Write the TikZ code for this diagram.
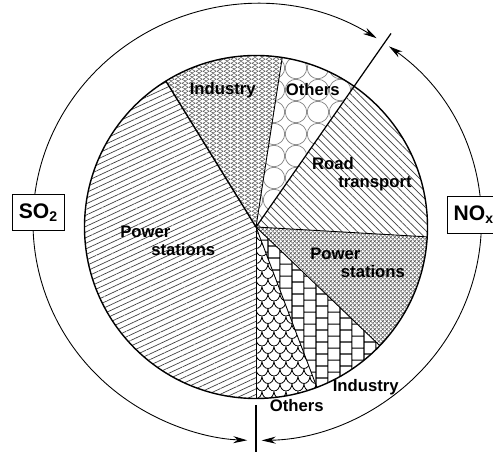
\documentclass[tikz,border=0pt]{standalone}
\usepackage{fontspec}
\setmainfont{Liberation Sans}
\usetikzlibrary{patterns, patterns.meta, arrows.meta, calc}

\tikzdeclarepattern{name=mesh, bounding box={(0,0) and (4pt,2.4pt)}, tile size={(4pt,2.4pt)},
  code={\draw[line width=0.35pt] (0,1.2pt) -- (2pt,0) -- (4pt,1.2pt) -- (2pt,2.4pt) -- cycle;}}
\tikzdeclarepattern{name=rings, bounding box={(0,0) and (12.5pt,12.5pt)}, tile size={(12.5pt,12.5pt)},
  code={\draw[line width=0.4pt] (6.25pt,6.25pt) circle[radius=6.1pt];}}
\tikzdeclarepattern{name=finecross, bounding box={(0,0) and (2.4pt,2.4pt)}, tile size={(2.4pt,2.4pt)},
  code={\draw[line width=0.4pt] (0,0) -- (2.4pt,2.4pt) (0,2.4pt) -- (2.4pt,0);}}
\tikzdeclarepattern{name=vbricks, bounding box={(0,0) and (13.6pt,6.8pt)}, tile size={(13.6pt,6.8pt)},
  code={\draw[line width=0.6pt] (3.4pt,0) -- (3.4pt,6.8pt) (10.2pt,0) -- (10.2pt,6.8pt)
    (3.4pt,1.7pt) -- (10.2pt,1.7pt) (10.2pt,5.1pt) -- (13.6pt,5.1pt) (0,5.1pt) -- (3.4pt,5.1pt);}}
\tikzdeclarepattern{name=scales, bounding box={(0,0) and (6.8pt,8.8pt)}, tile size={(6.8pt,8.8pt)},
  code={\draw[line width=0.45pt] (0,8.8pt) arc[start angle=180, end angle=360, x radius=3.4pt, y radius=4.4pt]
    (-3.4pt,4.4pt) arc[start angle=180, end angle=360, x radius=3.4pt, y radius=4.4pt]
    (3.4pt,4.4pt) arc[start angle=180, end angle=360, x radius=3.4pt, y radius=4.4pt];}}

\begin{document}
\begin{tikzpicture}[x=0.02cm, y=0.02cm,
  slicetext/.style={font=\fontsize{9.5}{10.2}\selectfont\bfseries, inner sep=0pt, align=left},
  gasbox/.style={draw, line width=0.6pt, fill=white, font=\fontsize{12}{12}\selectfont\bfseries,
    minimum width=30pt, minimum height=21pt, inner sep=2pt},
  sopow/.style={pattern={Lines[angle=25, distance=2.9pt, line width=0.4pt]}, pattern color=black!75},
  soind/.style={pattern=mesh, pattern color=black!65},
  sooth/.style={pattern=rings, pattern color=black!50},
  road/.style={pattern={Lines[angle=-45, distance=3.1pt, line width=0.4pt]}, pattern color=black!75},
  nopow/.style={pattern=finecross, pattern color=black!65},
  noind/.style={pattern=vbricks, pattern color=black},
  nooth/.style={pattern=scales, pattern color=black},
  gasarrow/.style={arrows={Stealth[length=8pt, width=4pt]-Stealth[length=8pt, width=4pt]}, line width=0.5pt}]
\useasboundingbox (-256,-225) rectangle (237,227);
\def\R{171.5}
\coordinate (c) at (0,0);
\coordinate (oc) at (1,4.5);
\coordinate (topcut) at (55.1:236);
\coordinate (botin) at (0,-178);
\coordinate (botout) at (0,-226);

% slices, SO2 on the left, NOx on the right
\foreach \a/\b/\s in {121.7/270/sopow, 81.2/121.7/soind, 55.1/81.2/sooth, -3.3/55.1/road,
    -43.8/-3.3/nopow, -69.2/-43.8/noind, -90/-69.2/nooth}
  \path[\s] (c) -- (\a:\R) arc[start angle=\a, end angle=\b, radius=\R] -- cycle;
\foreach \a in {81.2, -3.3, -43.8, -69.2, -90}
  \draw[line width=0.5pt] (c) -- (\a:\R);
\draw[line width=0.8pt] (c) -- (121.7:\R);
\draw[line width=0.8pt] (c) circle[radius=\R];
\draw[line width=0.7pt] (c) -- (topcut);
\draw[line width=0.7pt] (botin) -- (botout);

\draw[gasarrow] ($(oc)+(57.7:224 and 218)$) arc[start angle=57.7, end angle=267.5, x radius=224, y radius=218];
\draw[gasarrow] ($(oc)+(53.9:224 and 218)$) arc[start angle=53.9, end angle=-88.8, x radius=224, y radius=218];

\node[slicetext, anchor=west] (sopowl) at (-136,-13.8) {Power\\\hspace*{17.6pt}stations};
\node[slicetext] (soindl) at (-33.3,137) {Industry};
\node[slicetext] (soothl) at (56.7,137) {Others};
\node[slicetext, anchor=west] (roadl) at (55.7,52.5) {Road\\\hspace*{15pt}transport};
\node[slicetext, anchor=west] (nopowl) at (54,-36.3) {Power\\\hspace*{17.4pt}stations};
\node[slicetext] (noindl) at (109.7,-160.3) {Industry};
\node[slicetext] (noothl) at (40.7,-179) {Others};

\node[gasbox] (so2) at (-217.5,14.5) {SO\textsubscript{2}};
\node[gasbox, anchor=west] (nox) at (191,12) {NO\textsubscript{x}};
\end{tikzpicture}
\end{document}
